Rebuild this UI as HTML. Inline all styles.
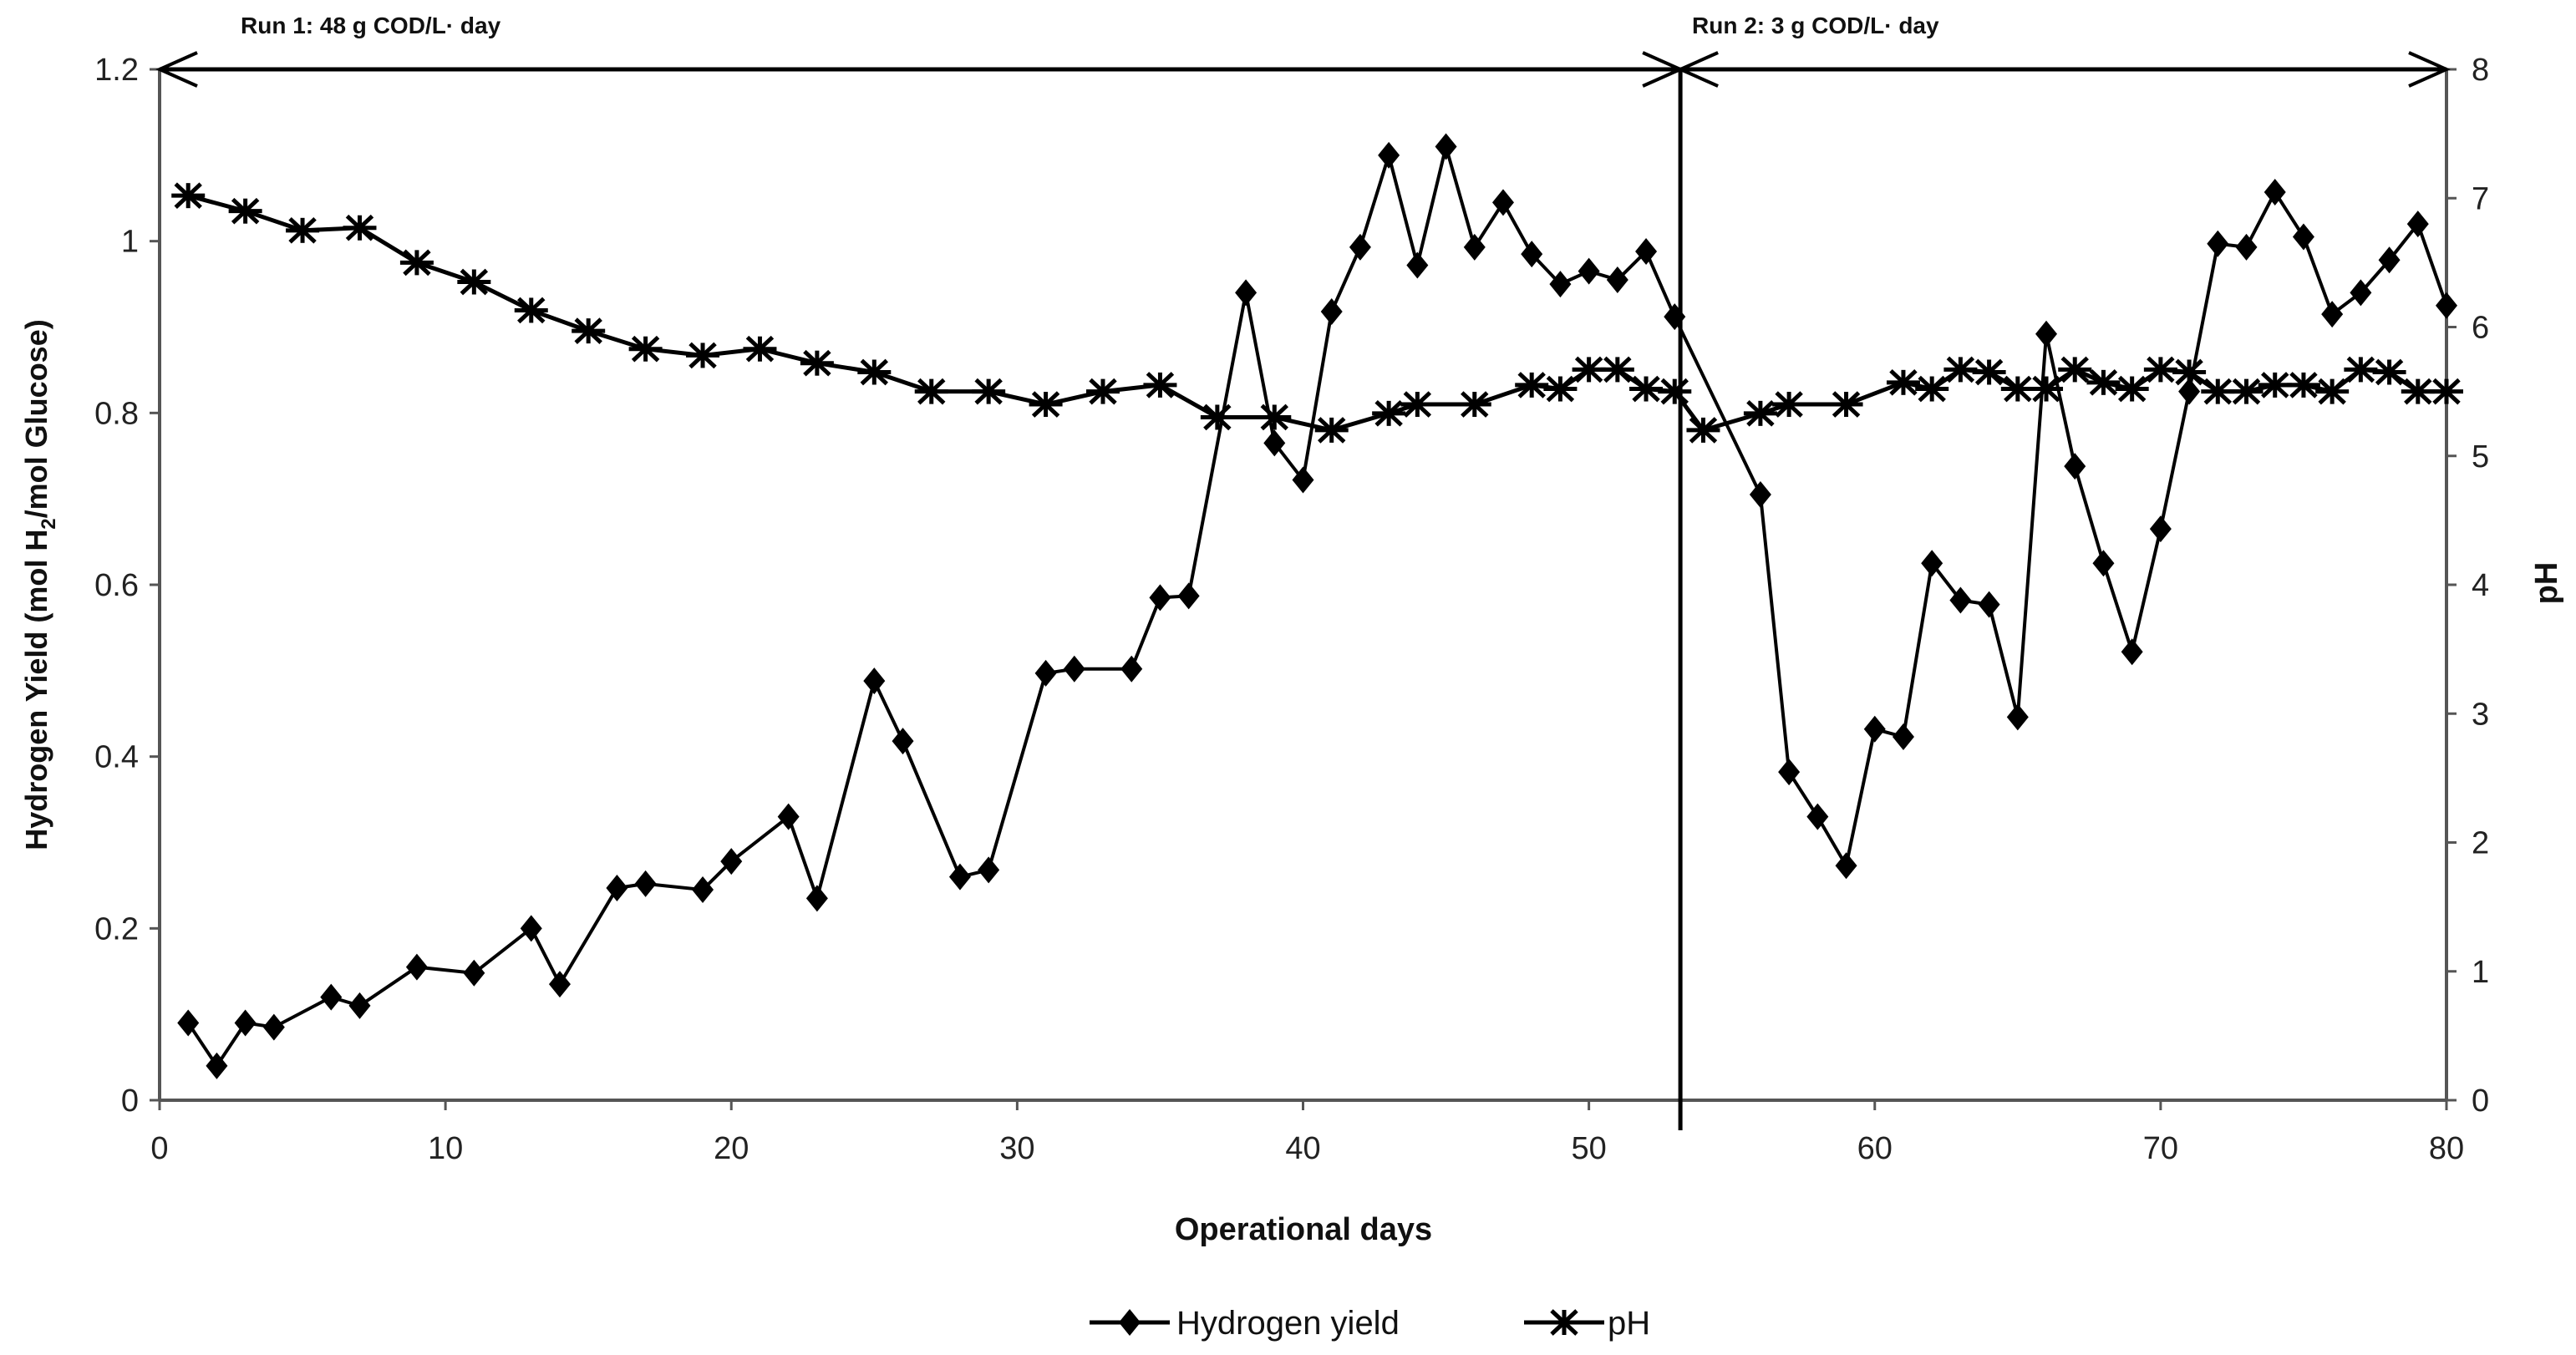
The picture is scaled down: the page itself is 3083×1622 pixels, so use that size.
<!DOCTYPE html>
<html><head><meta charset="utf-8"><style>
html,body{margin:0;padding:0;background:#fff;}
svg{display:block;font-family:"Liberation Sans",sans-serif;}
</style></head><body>
<svg id="chart" width="3083" height="1622" viewBox="0 0 3083 1622">
<g id="axes"></g><g id="series"></g>
</svg>
<script>
const yieldDays=[1,2,3,4,6,7,9,11,13,14,16,17,19,20,22,23,25,26,28,29,31,32,34,35,36,38,39,40,41,42,43,44,45,46,47,48,49,50,51,52,53,56,57,58,59,60,61,62,63,64,65,66,67,68,69,70,71,72,73,74,75,76,77,78,79,80];
const yieldVals=[0.09,0.04,0.09,0.085,0.12,0.11,0.155,0.148,0.2,0.135,0.247,0.252,0.245,0.278,0.33,0.235,0.488,0.418,0.26,0.268,0.497,0.502,0.502,0.585,0.587,0.94,0.765,0.722,0.918,0.993,1.1,0.972,1.11,0.993,1.045,0.985,0.95,0.965,0.955,0.988,0.912,0.705,0.382,0.33,0.273,0.432,0.423,0.625,0.582,0.577,0.446,0.892,0.738,0.625,0.522,0.665,0.825,0.997,0.993,1.057,1.005,0.915,0.94,0.978,1.02,0.925];
const phDays=[1,3,5,7,9,11,13,15,17,19,21,23,25,27,29,31,33,35,37,39,41,43,44,46,48,49,50,51,52,53,54,56,57,59,61,62,63,64,65,66,67,68,69,70,71,72,73,74,75,76,77,78,79,80];
const phVals=[7.02,6.9,6.75,6.77,6.5,6.35,6.13,5.97,5.83,5.78,5.83,5.72,5.65,5.5,5.5,5.4,5.5,5.55,5.3,5.3,5.2,5.33,5.4,5.4,5.55,5.52,5.67,5.67,5.52,5.5,5.2,5.33,5.4,5.4,5.57,5.52,5.67,5.65,5.52,5.52,5.67,5.57,5.52,5.67,5.65,5.5,5.5,5.55,5.55,5.5,5.67,5.65,5.5,5.5];
const xTicks=[0,10,20,30,40,50,60,70,80];
const yTicks=[0,0.2,0.4,0.6,0.8,1,1.2];
const y2Ticks=[0,1,2,3,4,5,6,7,8];
const runSplit=53.2;
const NS="http://www.w3.org/2000/svg";
const X0=191,X1=2928,Y0=1317,Y1=83;
const xs=d=>X0+(d-0)/80*(X1-X0);
const ys=v=>Y0-v/1.2*(Y0-Y1);
const ys2=v=>Y0-v/8*(Y0-Y1);
function mk(tag,attrs,parent,text){const e=document.createElementNS(NS,tag);for(const k in attrs)e.setAttribute(k,attrs[k]);if(text!==undefined)e.textContent=text;parent.appendChild(e);return e;}
const ax=document.getElementById('axes'),se=document.getElementById('series');
let e;
e=mk('line',{x1:X0,y1:Y1,x2:X0,y2:Y0,stroke:'#555','stroke-width':4},ax);

e=mk('line',{x1:X1,y1:Y1,x2:X1,y2:Y0,stroke:'#555','stroke-width':4},ax);

e=mk('line',{x1:X0,y1:Y0,x2:X1,y2:Y0,stroke:'#555','stroke-width':4},ax);

xTicks.forEach(t=>{const x=xs(t);mk('line',{x1:x,y1:Y0,x2:x,y2:Y0+12,stroke:'#555','stroke-width':3},ax);
e=mk('text',{x:x,y:Y0+70,'text-anchor':'middle','font-size':38,fill:'#222'},ax,String(t));
});
yTicks.forEach(t=>{const y=ys(t);mk('line',{x1:X0-12,y1:y,x2:X0,y2:y,stroke:'#555','stroke-width':3},ax);
e=mk('text',{x:X0-25,y:y+13,'text-anchor':'end','font-size':38,fill:'#222'},ax,String(t));
});
y2Ticks.forEach(t=>{const y=ys2(t);mk('line',{x1:X1,y1:y,x2:X1+12,y2:y,stroke:'#555','stroke-width':3},ax);
e=mk('text',{x:X1+30,y:y+13,'text-anchor':'start','font-size':38,fill:'#222'},ax,String(t));
});
// titles
e=mk('text',{x:1560,y:1484,'text-anchor':'middle','font-size':38,'font-weight':'bold',fill:'#111'},ax,'Operational days');

e=mk('text',{transform:'translate(56,700) rotate(-90)','text-anchor':'middle','font-size':36,'font-weight':'bold',fill:'#111'},ax);
e.innerHTML='Hydrogen Yield (mol H<tspan font-size="24" dy="10">2</tspan><tspan dy="-10">/mol Glucose)</tspan>';

e=mk('text',{transform:'translate(3060,698) rotate(-90)','text-anchor':'middle','font-size':38,'font-weight':'bold',fill:'#111'},ax,'pH');

// run annotations
const xs53=xs(runSplit);
e=mk('line',{x1:xs53,y1:Y1,x2:xs53,y2:Y0+36,stroke:'#000','stroke-width':5},ax);

e=mk('line',{x1:X0,y1:Y1,x2:X1,y2:Y1,stroke:'#000','stroke-width':5},ax);

[[X0,1],[xs53,-1],[xs53,1],[X1,-1]].forEach(([x,d])=>{mk('polyline',{points:`${x+d*45},${Y1-20} ${x},${Y1} ${x+d*45},${Y1+20}`,fill:'none',stroke:'#000','stroke-width':4},ax);});
e=mk('text',{x:288,y:40,'font-size':28,'font-weight':'bold',fill:'#111'},ax,'Run 1: 48 g COD/L· day');

e=mk('text',{x:2025,y:40,'font-size':28,'font-weight':'bold',fill:'#111'},ax,'Run 2: 3 g COD/L· day');

function diamond(x,y,g){return mk('polygon',{points:`${x},${y-16} ${x+13},${y} ${x},${y+16} ${x-13},${y}`,fill:'#000'},g);}
function star(x,y,g){const s=mk('g',{stroke:'#000','stroke-width':5},g);mk('line',{x1:x-20,y1:y,x2:x+20,y2:y},s);mk('line',{x1:x-15,y1:y-14,x2:x+15,y2:y+14},s);mk('line',{x1:x-15,y1:y+14,x2:x+15,y2:y-14},s);mk('line',{x1:x,y1:y-15,x2:x,y2:y+15},s);return s;}
// pH series
e=mk('polyline',{points:phDays.map((d,i)=>xs(d)+','+ys2(phVals[i])).join(' '),fill:'none',stroke:'#000','stroke-width':5},se);

phDays.forEach((d,i)=>{const m=star(xs(d),ys2(phVals[i]),se);});
// yield series
e=mk('polyline',{points:yieldDays.map((d,i)=>xs(d)+','+ys(yieldVals[i])).join(' '),fill:'none',stroke:'#000','stroke-width':4},se);

yieldDays.forEach((d,i)=>{const m=diamond(xs(d),ys(yieldVals[i]),se);});
// legend
const lg=mk('g',{},ax);

const l1=mk('g',{},lg);

mk('line',{x1:1304,y1:1583,x2:1400,y2:1583,stroke:'#000','stroke-width':5},l1);diamond(1352,1583,l1);
mk('text',{x:1408,y:1597,'font-size':40,fill:'#111'},l1,'Hydrogen yield');
const l2=mk('g',{},lg);

mk('line',{x1:1824,y1:1583,x2:1920,y2:1583,stroke:'#000','stroke-width':5},l2);star(1872,1583,l2);
mk('text',{x:1924,y:1597,'font-size':40,fill:'#111'},l2,'pH');
</script>
</body></html>
